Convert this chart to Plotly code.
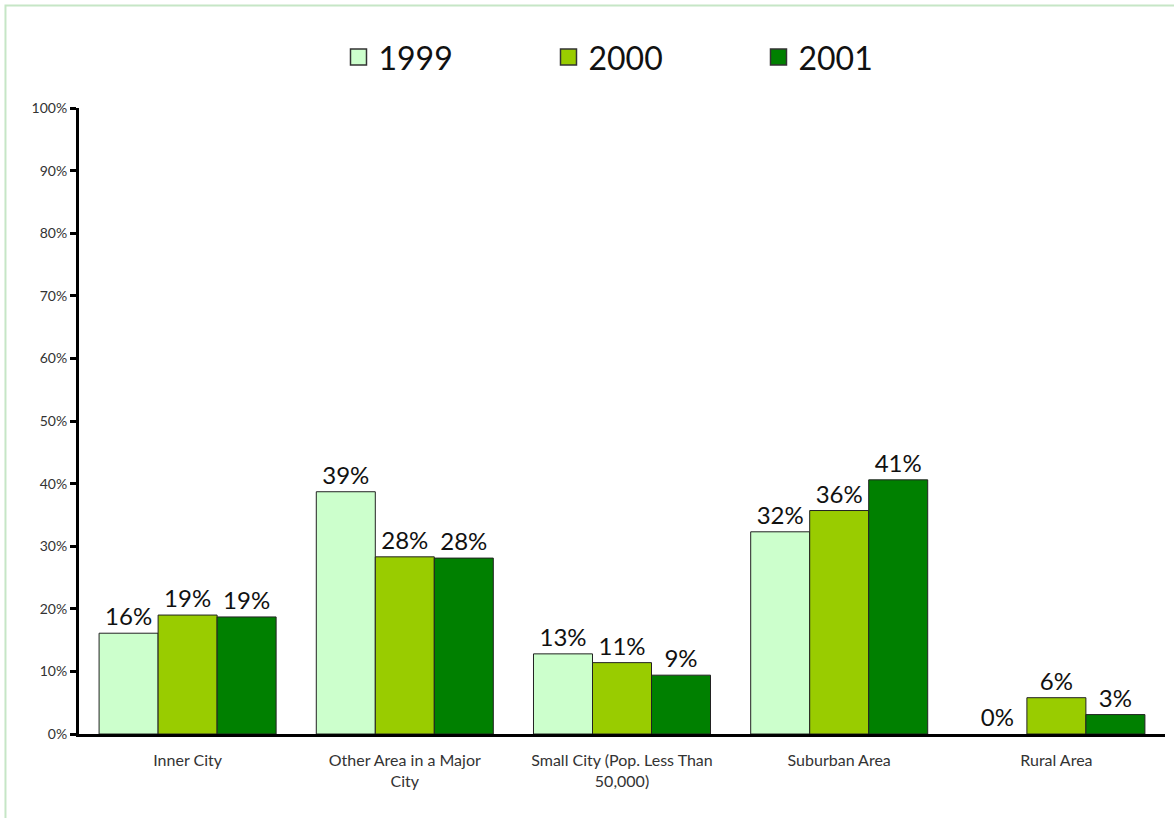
import plotly.graph_objects as go

categories = ["Inner City", "Other Area in a Major<br>City", "Small City (Pop. Less Than<br>50,000)",
              "Suburban Area", "Rural Area"]
years = ["1999", "2000", "2001"]
v1999 = [16.1, 38.7, 12.8, 32.3, 0.0]
v2000 = [19.0, 28.3, 11.4, 35.7, 5.8]
v2001 = [18.7, 28.1, 9.4, 40.6, 3.1]
colors = ["#CCFFCC", "#99CC00", "#008000"]
yticks = list(range(0, 101, 10))
yticklabels = [f"{t}%" for t in yticks]

FONT = "Lato"
fig = go.Figure()
for name, vals, col in zip(years, [v1999, v2000, v2001], colors):
    fig.add_trace(go.Bar(
        x=categories, y=vals, name=name, showlegend=False,
        marker=dict(color=col, line=dict(color="#222222", width=[1 if v > 0 else 0 for v in vals])),
        texttemplate="%{y:.0f}%", textposition="outside",
        textfont=dict(size=24, color="#111111", family=FONT),
        cliponaxis=False,
    ))
    fig.add_trace(go.Scatter(
        x=[None], y=[None], mode="markers", name=name,
        marker=dict(symbol="square", size=22, color=col, line=dict(color="#333333", width=1.5)),
    ))

fig.update_layout(
    width=1174, height=818,
    margin=dict(l=79, r=9, t=108, b=84),
    paper_bgcolor="white", plot_bgcolor="white",
    barmode="group", bargap=0.185, bargroupgap=0,
    font=dict(family=FONT, color="#333333"),
    showlegend=True,
    legend=dict(orientation="h", x=0.529, xanchor="center", y=1.081, yanchor="middle",
                font=dict(size=32, color="#111111", family=FONT),
                entrywidth=165, itemsizing="trace", bgcolor="rgba(0,0,0,0)"),
    xaxis=dict(showline=True, linecolor="black", linewidth=3, ticks="", showgrid=False,
               tickfont=dict(size=16, color="#333333"), automargin=False,
               ticklabelstandoff=10),
    yaxis=dict(range=[0, 100], tickvals=yticks, ticktext=yticklabels, showline=True,
               linecolor="black", linewidth=3, ticks="outside", ticklen=6, tickwidth=3,
               tickcolor="black", showgrid=False, zeroline=False,
               tickfont=dict(size=14, color="#333333"), automargin=False),
    shapes=[dict(type="rect", xref="paper", yref="paper", x0=-0.0677, y0=-0.2, x1=1.05, y1=1.1637,
                 line=dict(color="#C6E6C6", width=2), fillcolor="rgba(0,0,0,0)", layer="below")],
)
fig.write_html("out.html")
